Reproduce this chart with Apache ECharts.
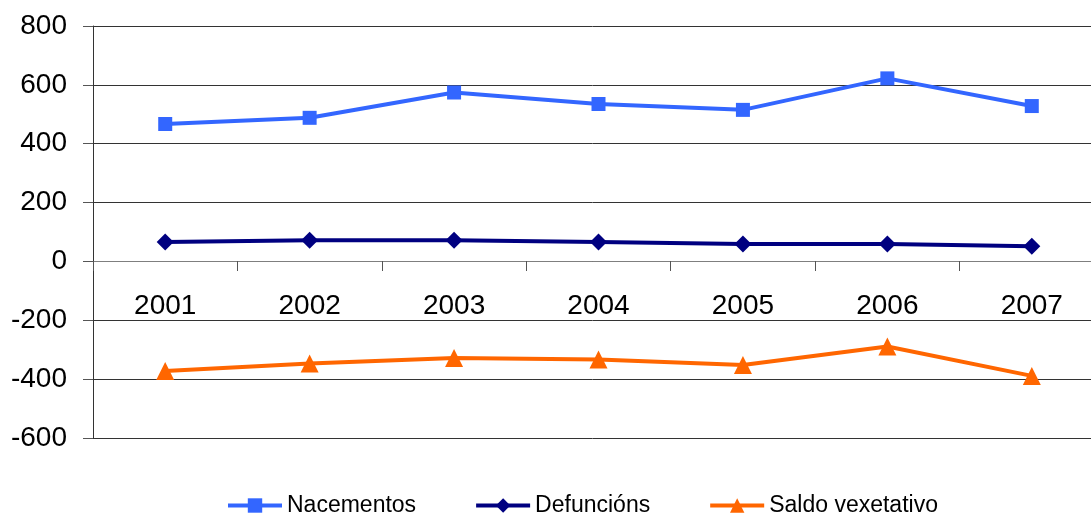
<!DOCTYPE html>
<html>
<head>
<meta charset="utf-8">
<script src="https://cdn.jsdelivr.net/npm/echarts@6/dist/echarts.min.js"></script>
<style>
html,body{margin:0;padding:0;background:#fff;}
#chart{width:1091px;height:515px;}
</style>
</head>
<body>
<div id="chart"></div>
<script>
const categories = ['2001','2002','2003','2004','2005','2006','2007'];
const nacementos = [467, 488, 574, 535, 515, 622, 528];
const defuncions = [66, 72, 72, 66, 59, 59, 52];
const saldoVexetativo = [-372, -347, -328, -333, -352, -289, -389];
const seriesNames = ['Nacementos', 'Defuncións', 'Saldo vexetativo'];

const FONT = '"Liberation Sans", Arial, sans-serif';
const chart = echarts.init(document.getElementById('chart'), null, {renderer: 'canvas'});
chart.setOption({
  animation: false,
  backgroundColor: '#ffffff',
  textStyle: {fontFamily: FONT},
  grid: {left: 93, top: 26, width: 1011, height: 412, containLabel: false, outerBoundsMode: 'none'},
  legend: {
    data: seriesNames,
    left: 221, top: 489,
    itemWidth: 54, itemHeight: 18, itemGap: 58,
    lineStyle: {width: 4},
    textStyle: {fontFamily: FONT, fontSize: 23, color: '#000'},
  },
  xAxis: {
    type: 'category',
    data: categories,
    boundaryGap: true,
    position: 'bottom',
    offset: -177,
    axisLine: {onZero: false, lineStyle: {color: '#7f7f7f', width: 1}},
    axisTick: {show: true, inside: false, length: 10, lineStyle: {color: '#555'}},
    axisLabel: {fontFamily: FONT, fontSize: 28, color: '#000', margin: 31},
    splitLine: {show: false}
  },
  yAxis: {
    type: 'value',
    min: -600, max: 800, interval: 200,
    axisLine: {show: true, onZero: false, lineStyle: {color: '#333', width: 1}},
    axisTick: {show: true, length: 10, lineStyle: {color: '#555'}},
    axisLabel: {fontFamily: FONT, fontSize: 28, color: '#000', margin: 26},
    splitLine: {show: true, lineStyle: {color: '#333', width: 1}}
  },
  series: [
    {
      name: seriesNames[0], type: 'line', data: nacementos,
      symbol: 'rect', symbolSize: 14,
      lineStyle: {color: '#3366FF', width: 4},
      itemStyle: {color: '#3366FF'}
    },
    {
      name: seriesNames[1], type: 'line', data: defuncions,
      symbol: 'diamond', symbolSize: 17,
      lineStyle: {color: '#000080', width: 4},
      itemStyle: {color: '#000080'}
    },
    {
      name: seriesNames[2], type: 'line', data: saldoVexetativo,
      symbol: 'triangle', symbolSize: 18,
      lineStyle: {color: '#FF6600', width: 4},
      itemStyle: {color: '#FF6600'}
    }
  ]
});
</script>
</body>
</html>
